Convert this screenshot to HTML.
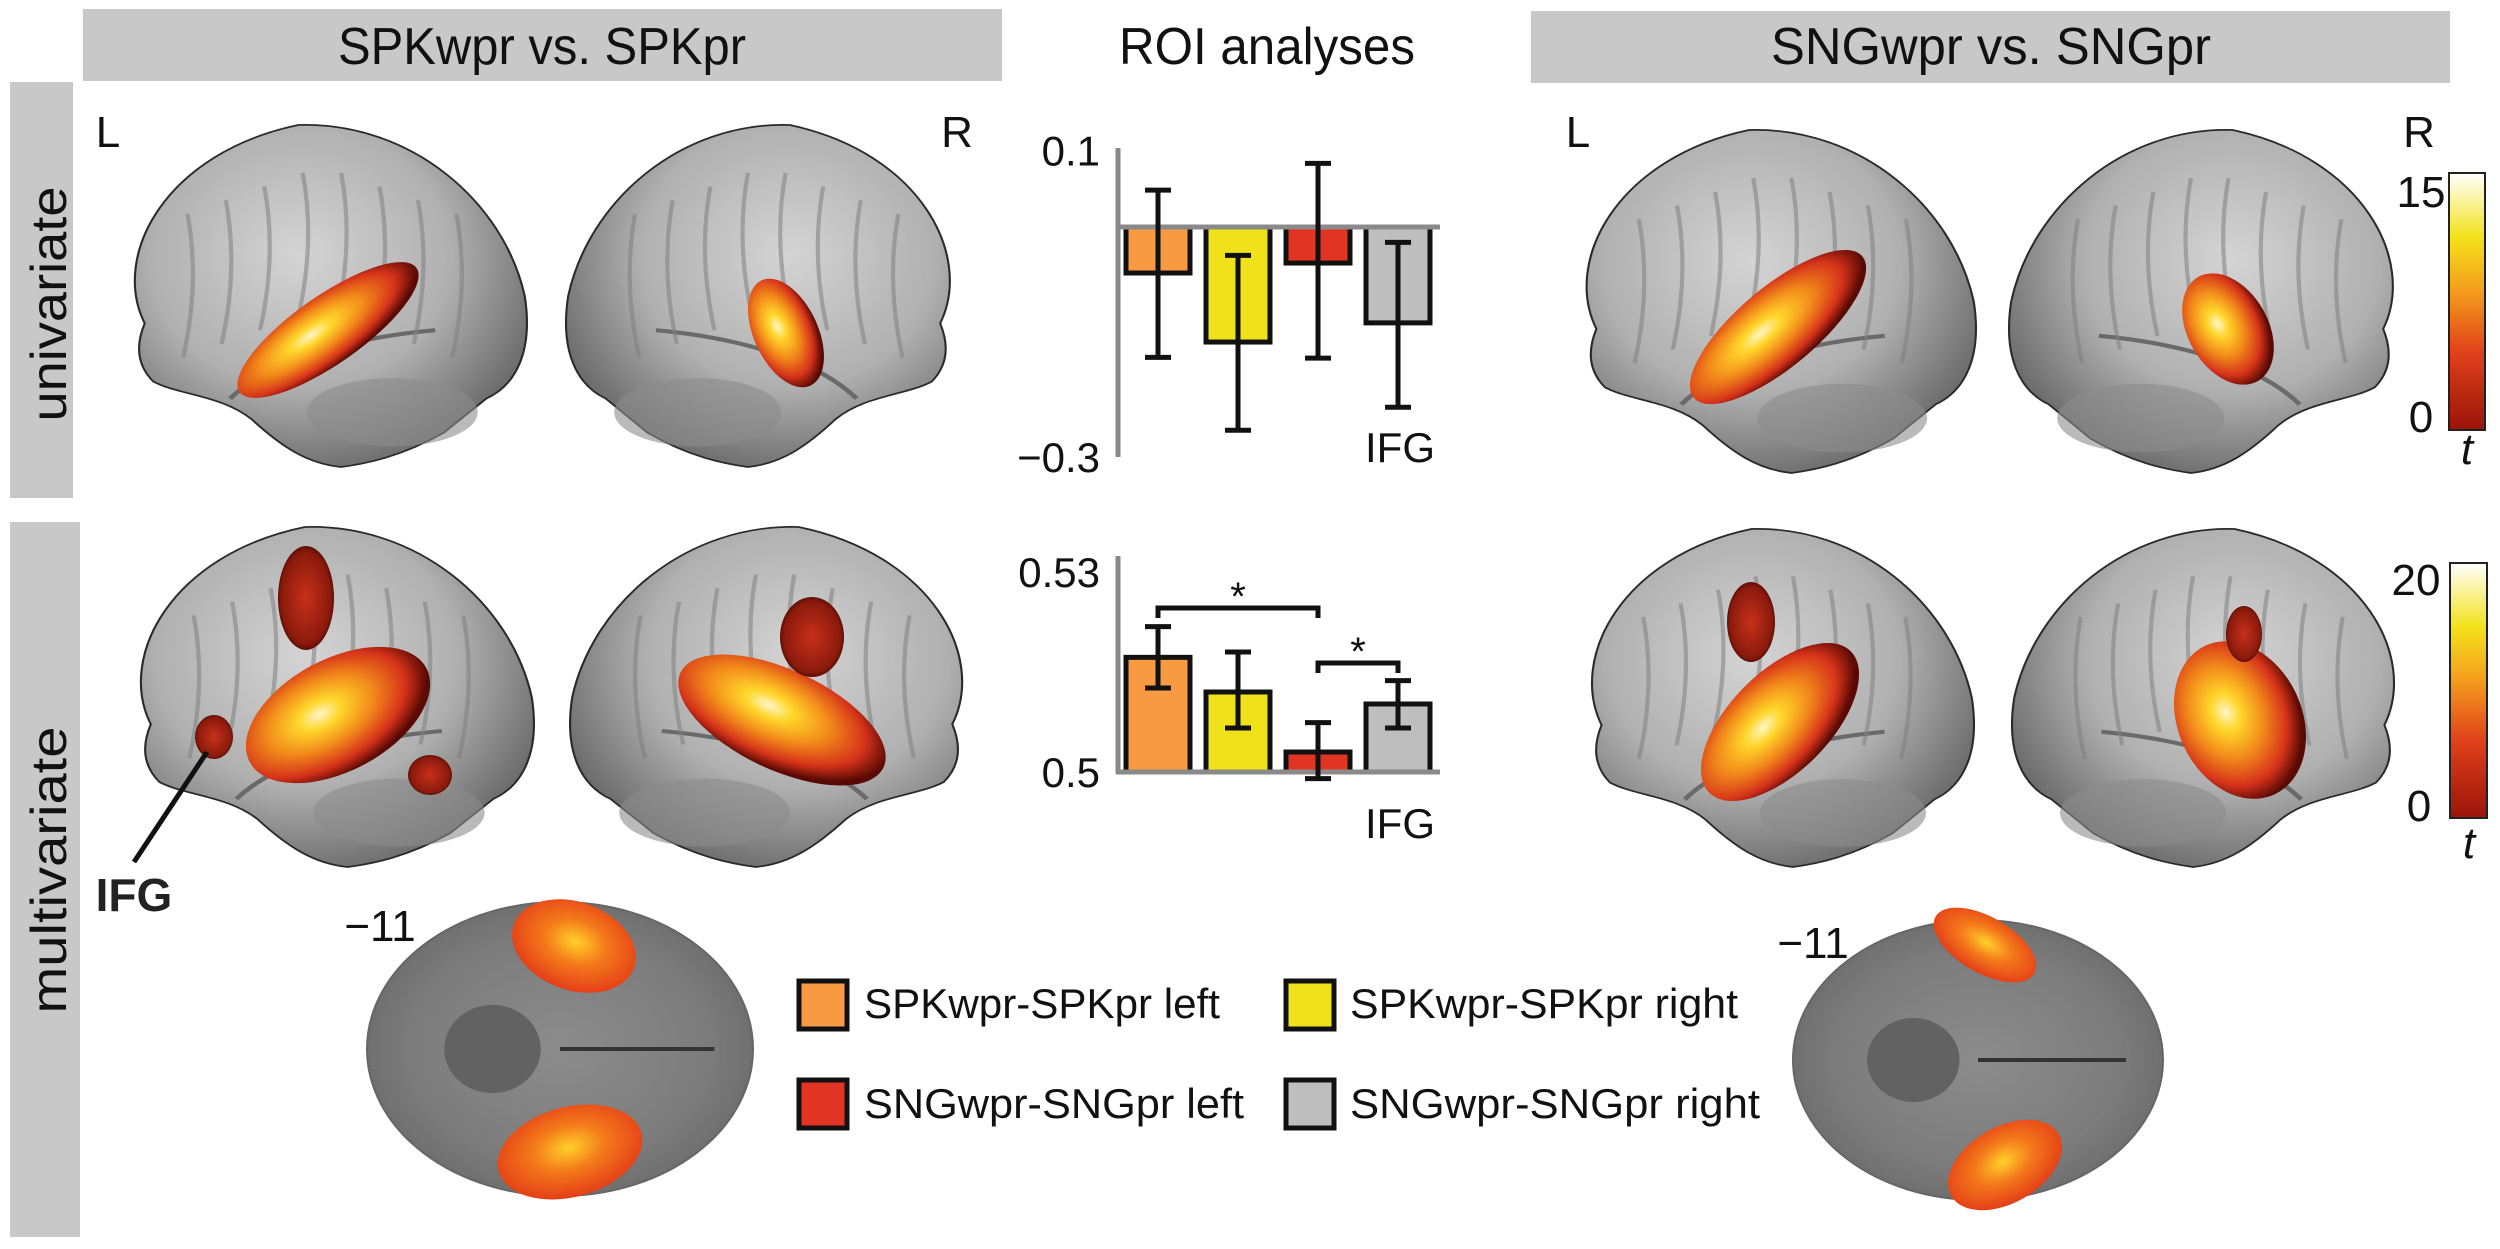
<!DOCTYPE html>
<html><head><meta charset="utf-8">
<style>
html,body{margin:0;padding:0;background:#fff;}
body{width:2500px;height:1249px;overflow:hidden;position:relative;font-family:"Liberation Sans Narrow","Liberation Sans",sans-serif;}
svg{position:absolute;left:0;top:0;}
</style></head>
<body>
<svg width="2500" height="1249" viewBox="0 0 2500 1249" xmlns="http://www.w3.org/2000/svg">
<defs>
<radialGradient id="brainG" cx="42%" cy="38%" r="70%">
<stop offset="0" stop-color="#d4d4d4"/><stop offset="0.55" stop-color="#b0b0b0"/><stop offset="1" stop-color="#5e5e5e"/>
</radialGradient>
<radialGradient id="heat" cx="42%" cy="42%" r="58%">
<stop offset="0" stop-color="#fff6c8"/><stop offset="0.2" stop-color="#ffd62a"/><stop offset="0.5" stop-color="#f28a1a"/><stop offset="0.8" stop-color="#d5321a"/><stop offset="1" stop-color="#5a0a04"/>
</radialGradient>
<radialGradient id="heatDark" cx="50%" cy="50%" r="55%">
<stop offset="0" stop-color="#c8301a"/><stop offset="0.8" stop-color="#8a1a0c"/><stop offset="1" stop-color="#3a0602"/>
</radialGradient>
<radialGradient id="heatFlat" cx="50%" cy="45%" r="55%">
<stop offset="0" stop-color="#ffd02a"/><stop offset="0.45" stop-color="#f47a1a"/><stop offset="1" stop-color="#e43e18"/>
</radialGradient>
<radialGradient id="sliceG" cx="50%" cy="50%" r="55%">
<stop offset="0" stop-color="#8c8c8c"/><stop offset="0.7" stop-color="#7c7c7c"/><stop offset="1" stop-color="#6a6a6a"/>
</radialGradient>
<linearGradient id="cbar" x1="0" y1="1" x2="0" y2="0">
<stop offset="0" stop-color="#9a140a"/><stop offset="0.3" stop-color="#e0401a"/><stop offset="0.55" stop-color="#f5a01c"/><stop offset="0.75" stop-color="#f3e21a"/><stop offset="1" stop-color="#ffffff"/>
</linearGradient>
</defs>

<!-- headers -->
<rect x="83" y="9" width="919" height="72" fill="#c8c8c8"/>
<text x="542" y="64" font-size="52" text-anchor="middle" textLength="408" lengthAdjust="spacingAndGlyphs" fill="#111">SPKwpr vs. SPKpr</text>
<text x="1267" y="64" font-size="52" text-anchor="middle" textLength="296" lengthAdjust="spacingAndGlyphs" fill="#111">ROI analyses</text>
<rect x="1531" y="11" width="919" height="72" fill="#c8c8c8"/>
<text x="1991" y="64" font-size="52" text-anchor="middle" textLength="440" lengthAdjust="spacingAndGlyphs" fill="#111">SNGwpr vs. SNGpr</text>

<!-- side labels -->
<rect x="10" y="82" width="63" height="416" fill="#c8c8c8"/>
<text transform="translate(66,304) rotate(-90)" font-size="50" text-anchor="middle" textLength="235" lengthAdjust="spacingAndGlyphs" fill="#111">univariate</text>
<rect x="10" y="522" width="70" height="715" fill="#c8c8c8"/>
<text transform="translate(66,870) rotate(-90)" font-size="50" text-anchor="middle" textLength="287" lengthAdjust="spacingAndGlyphs" fill="#111">multivariate</text>

<!-- L/R labels -->
<text x="108" y="147" font-size="44" text-anchor="middle" fill="#111">L</text>
<text x="957" y="147" font-size="44" text-anchor="middle" fill="#111">R</text>
<text x="1578" y="147" font-size="44" text-anchor="middle" fill="#111">L</text>
<text x="2419" y="147" font-size="44" text-anchor="middle" fill="#111">R</text>

<g id="brains"></g>

<!-- colorbars -->
<rect x="2449" y="173" width="36" height="257" fill="url(#cbar)" stroke="#222" stroke-width="2"/>
<text x="2421" y="207" font-size="44" text-anchor="middle" fill="#111">15</text>
<text x="2421" y="432" font-size="44" text-anchor="middle" fill="#111">0</text>
<text x="2467" y="464" font-size="44" font-style="italic" text-anchor="middle" fill="#111">t</text>
<rect x="2450" y="563" width="37" height="255" fill="url(#cbar)" stroke="#222" stroke-width="2"/>
<text x="2416" y="595" font-size="44" text-anchor="middle" fill="#111">20</text>
<text x="2419" y="821" font-size="44" text-anchor="middle" fill="#111">0</text>
<text x="2469" y="858" font-size="44" font-style="italic" text-anchor="middle" fill="#111">t</text>

<!-- IFG annotation -->
<line x1="207" y1="752" x2="134" y2="862" stroke="#111" stroke-width="5"/>
<text x="134" y="911" font-size="46" font-weight="bold" text-anchor="middle" fill="#222">IFG</text>

<!-- slice labels -->
<text x="380" y="941" font-size="44" text-anchor="middle" fill="#111">−11</text>
<text x="1813" y="958" font-size="44" text-anchor="middle" fill="#111">−11</text>

<!-- legend -->
<g>
<rect x="799" y="981" width="48" height="48" fill="#f89a42" stroke="#111" stroke-width="5"/>
<text x="864" y="1018" font-size="42" textLength="356" lengthAdjust="spacingAndGlyphs" fill="#111">SPKwpr-SPKpr left</text>
<rect x="1286" y="981" width="48" height="48" fill="#f0e21a" stroke="#111" stroke-width="5"/>
<text x="1350" y="1018" font-size="42" textLength="388" lengthAdjust="spacingAndGlyphs" fill="#111">SPKwpr-SPKpr right</text>
<rect x="799" y="1080" width="48" height="48" fill="#e23422" stroke="#111" stroke-width="5"/>
<text x="864" y="1118" font-size="42" textLength="380" lengthAdjust="spacingAndGlyphs" fill="#111">SNGwpr-SNGpr left</text>
<rect x="1286" y="1080" width="48" height="48" fill="#bebebe" stroke="#111" stroke-width="5"/>
<text x="1350" y="1118" font-size="42" textLength="410" lengthAdjust="spacingAndGlyphs" fill="#111">SNGwpr-SNGpr right</text>
</g>

<g id="chart1"></g>
<g id="chart2"></g>
</svg>

<script>
// ---- Chart data ----
const conditions = ["SPKwpr-SPKpr left","SPKwpr-SPKpr right","SNGwpr-SNGpr left","SNGwpr-SNGpr right"];
const barColors = ["#f89a42","#f0e21a","#e23422","#bebebe"];
const univariateValues = [-0.06, -0.15, -0.047, -0.125];
const univariateErrLow = [-0.17, -0.265, -0.171, -0.235];
const univariateErrHigh = [0.048, -0.037, 0.083, -0.02];
const univariateTicks = ["0.1","−0.3"];
const multivariateValues = [0.5172, 0.512, 0.503, 0.5102];
const multivariateErrLow = [0.5126, 0.5066, 0.499, 0.5066];
const multivariateErrHigh = [0.5218, 0.518, 0.5074, 0.5137];
const multivariateTicks = ["0.53","0.5"];

const NS = "http://www.w3.org/2000/svg";
function mk(tag, attrs, parent){const e=document.createElementNS(NS,tag);for(const k in attrs)e.setAttribute(k,attrs[k]);parent.appendChild(e);return e;}

const barX = i => 1124 + i*80;
const barW = 68;

function drawChart(g, vals, lo, hi, yScale, baseVal, axisTop, axisBot, ticks, tickVals, prefix){
  const base = yScale(baseVal);
  const ax = mk("line",{x1:1118,y1:axisTop,x2:1118,y2:axisBot,stroke:"#8a8a8a","stroke-width":5},g);
  
  
  vals.forEach((v,i)=>{
    const y1 = yScale(v);
    const r = mk("rect",{x:barX(i)+2,y:Math.min(y1,base),width:barW-4,height:Math.abs(y1-base),fill:barColors[i],stroke:"#111","stroke-width":5},g);
    
    
  });
  const zl = mk("line",{x1:1116,y1:base,x2:1440,y2:base,stroke:"#8a8a8a","stroke-width":5},g);
  
  
  vals.forEach((v,i)=>{
    const cx = barX(i)+barW/2, yl=yScale(lo[i]), yh=yScale(hi[i]);
    const eg = mk("g",{stroke:"#111","stroke-width":5},g);
    
    
    mk("line",{x1:cx,y1:yl,x2:cx,y2:yh},eg);
    mk("line",{x1:cx-13,y1:yl,x2:cx+13,y2:yl},eg);
    mk("line",{x1:cx-13,y1:yh,x2:cx+13,y2:yh},eg);
  });
  ticks.forEach((t,i)=>{
    const tx = mk("text",{x:1100,y:yScale(tickVals[i])+15,"font-size":42,"text-anchor":"end",fill:"#111"},g);
    tx.textContent=t;
    
    
  });
}

// Chart 1 (univariate)
const g1 = document.getElementById("chart1");
const y1s = v => 227 - v*767;
drawChart(g1, univariateValues, univariateErrLow, univariateErrHigh, y1s, 0, 148, 457, univariateTicks, [0.1,-0.3], "univariate");
const ifg1 = mk("text",{x:1400,y:462,"font-size":42,"text-anchor":"middle",fill:"#111"},g1);
ifg1.textContent="IFG";



// Chart 2 (multivariate)
const g2 = document.getElementById("chart2");
const y2s = v => 772 - (v-0.5)*6667;
drawChart(g2, multivariateValues, multivariateErrLow, multivariateErrHigh, y2s, 0.5, 556, 774, multivariateTicks, [0.53,0.5], "multivariate");
const ifg2 = mk("text",{x:1400,y:838,"font-size":42,"text-anchor":"middle",fill:"#111"},g2);
ifg2.textContent="IFG";


function bracket(i,j,y,name){
  const x1=barX(i)+barW/2, x2=barX(j)+barW/2;
  const p = mk("path",{d:`M${x1},${y+10} L${x1},${y} L${x2},${y} L${x2},${y+10}`,fill:"none",stroke:"#111","stroke-width":5},g2);
  
  
  const s = mk("text",{x:(x1+x2)/2,y:y+2,"font-size":40,"text-anchor":"middle",fill:"#111"},g2);
  s.textContent="*";
  
  
}
bracket(0,2,608,'significance-bracket-1');
bracket(2,3,663,'significance-bracket-2');

// ---- Brain images (approximations) ----
const gb = document.getElementById("brains");
const brainPath = "M0.1,0.58 C0.02,0.38 0.15,0.08 0.46,0.0 C0.72,-0.01 0.94,0.22 0.99,0.5 C1.01,0.66 0.97,0.76 0.9,0.8 L0.8,0.9 C0.7,0.97 0.62,0.99 0.56,1.0 C0.48,0.99 0.42,0.94 0.35,0.86 C0.28,0.79 0.18,0.79 0.12,0.75 C0.08,0.7 0.08,0.64 0.1,0.58 Z";
function brain(x,y,w,h,flip,name){
  const tf = flip ? `translate(${x+w},${y}) scale(${-w},${h})` : `translate(${x},${y}) scale(${w},${h})`;
  const g = mk("g",{transform:tf},gb);
  
  
  mk("path",{d:brainPath,fill:"url(#brainG)",stroke:"#2a2a2a","stroke-width":0.005},g);
  mk("path",{d:"M0.3,0.8 C0.4,0.68 0.6,0.62 0.78,0.6",fill:"none",stroke:"#6a6a6a","stroke-width":0.012},g);
  mk("ellipse",{cx:0.68,cy:0.84,rx:0.2,ry:0.1,fill:"#8c8c8c",opacity:0.6},g);
  for(let k=0;k<8;k++){
    mk("path",{d:`M${0.2+k*0.09},${0.12+Math.abs(k-3.5)*0.04} q0.03,0.2 -0.01,0.42`,fill:"none",stroke:"#808080","stroke-width":0.01,opacity:0.55},g);
  }
}
function blob(cx,cy,rx,ry,rot,grad,name){
  const e = mk("ellipse",{cx:cx,cy:cy,rx:rx,ry:ry,fill:`url(#${grad})`,transform:`rotate(${rot} ${cx} ${cy})`},gb);
  
  
}
brain(102,125,427,342,false,'brain-spk-univariate-left');
brain(564,125,418,342,true,'brain-spk-univariate-right');
brain(1554,130,424,343,false,'brain-sng-univariate-left');
brain(2007,130,418,343,true,'brain-sng-univariate-right');
brain(108,527,428,340,false,'brain-spk-multivariate-left');
brain(568,527,427,340,true,'brain-spk-multivariate-right');
brain(1560,529,416,338,false,'brain-sng-multivariate-left');
brain(2010,529,416,338,true,'brain-sng-multivariate-right');

blob(328,330,108,34,-35,'heat','activation-1');
blob(786,333,32,58,-25,'heat','activation-2');
blob(1778,327,110,40,-40,'heat','activation-3');
blob(2228,329,40,60,-30,'heat','activation-4');
blob(338,715,100,56,-28,'heat','activation-5');
blob(306,598,28,52,0,'heatDark','activation-5b');
blob(214,737,19,22,0,'heatDark','activation-5c');
blob(430,775,22,20,0,'heatDark','activation-5d');
blob(782,720,112,50,25,'heat','activation-6');
blob(812,637,32,40,0,'heatDark','activation-6b');
blob(1780,722,100,50,-45,'heat','activation-7');
blob(1751,622,24,40,0,'heatDark','activation-7b');
blob(2240,720,62,82,-25,'heat','activation-8');
blob(2244,634,18,28,0,'heatDark','activation-8b');

function slice(cx,cy,rx,ry,name){
  const e = mk("ellipse",{cx:cx,cy:cy,rx:rx,ry:ry,fill:"url(#sliceG)",stroke:"#666","stroke-width":2},gb);
  
  
  mk("line",{x1:cx,y1:cy,x2:cx+rx*0.8,y2:cy,stroke:"#333","stroke-width":4},gb);
  mk("ellipse",{cx:cx-rx*0.35,cy:cy,rx:rx*0.25,ry:ry*0.3,fill:"#626262"},gb);
}
slice(560,1049,193,147,'axial-slice-left');
slice(1978,1060,185,140,'axial-slice-right');
blob(574,946,64,44,20,'heatFlat','slice-activation-1');
blob(570,1152,74,45,-15,'heatFlat','slice-activation-2');
blob(1985,945,57,28,30,'heatFlat','slice-activation-3');
blob(2005,1165,62,38,-30,'heatFlat','slice-activation-4');
</script>
</body></html>
